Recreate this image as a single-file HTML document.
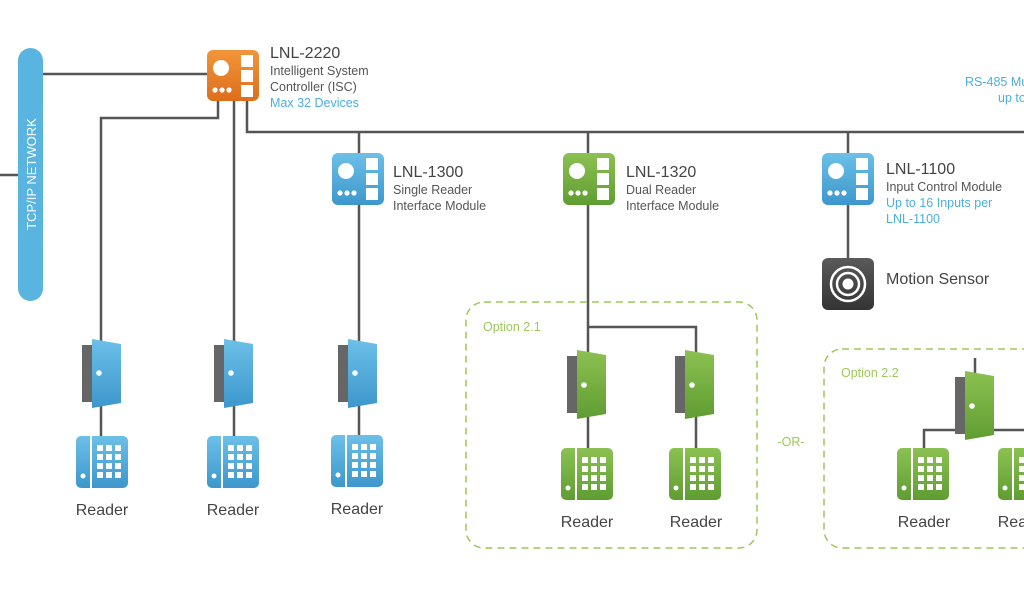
<!DOCTYPE html>
<html><head><meta charset="utf-8"><style>
html,body{margin:0;padding:0;background:#fff;width:1024px;height:600px;overflow:hidden}
svg{display:block}
text{font-family:"Liberation Sans",sans-serif}
</style></head><body>
<svg width="1024" height="600" viewBox="0 0 1024 600" xmlns="http://www.w3.org/2000/svg">
<defs>
<linearGradient id="gb" x1="0" y1="0" x2="0" y2="1"><stop offset="0" stop-color="#6cc0e8"/><stop offset="1" stop-color="#3d97cc"/></linearGradient>
<linearGradient id="gg" x1="0" y1="0" x2="0" y2="1"><stop offset="0" stop-color="#8cc152"/><stop offset="1" stop-color="#5f9d32"/></linearGradient>
<linearGradient id="go" x1="0" y1="0" x2="0" y2="1"><stop offset="0" stop-color="#f2953a"/><stop offset="1" stop-color="#dd6e1c"/></linearGradient>
<linearGradient id="gd" x1="0" y1="0" x2="0" y2="1"><stop offset="0" stop-color="#5a5a5a"/><stop offset="1" stop-color="#333"/></linearGradient>
<g id="mod">
<circle cx="14" cy="18" r="8" fill="#fff"/>
<rect x="34" y="5" width="12" height="12" fill="#fff"/><rect x="34" y="20" width="12" height="12" fill="#fff"/><rect x="34" y="35" width="12" height="12" fill="#fff"/>
<circle cx="8" cy="40" r="2.6" fill="#fff"/><circle cx="15" cy="40" r="2.6" fill="#fff"/><circle cx="22" cy="40" r="2.6" fill="#fff"/>
</g>
<g id="keys" fill="#fff">
<rect x="21" y="9" width="6" height="6"/><rect x="30" y="9" width="6" height="6"/><rect x="39" y="9" width="6" height="6"/>
<rect x="21" y="18" width="6" height="6"/><rect x="30" y="18" width="6" height="6"/><rect x="39" y="18" width="6" height="6"/>
<rect x="21" y="27" width="6" height="6"/><rect x="30" y="27" width="6" height="6"/><rect x="39" y="27" width="6" height="6"/>
<rect x="21" y="36" width="6" height="6"/><rect x="30" y="36" width="6" height="6"/><rect x="39" y="36" width="6" height="6"/>
<rect x="14" y="0" width="2" height="52"/>
<circle cx="7" cy="40" r="2.5"/>
</g>
</defs>

<g stroke="#555" stroke-width="2.5" fill="none">
<line x1="0" y1="175" x2="18" y2="175"/>
<line x1="43" y1="74" x2="207" y2="74"/>
<polyline points="218,101 218,118 101,118 101,470"/>
<line x1="234" y1="101" x2="234" y2="470"/>
<polyline points="247,101 247,132 1024,132"/>
<line x1="359" y1="132" x2="359" y2="470"/>
<line x1="588" y1="132" x2="588" y2="470"/>
<polyline points="588,327 696,327 696,470"/>
<line x1="848" y1="132" x2="848" y2="280"/>
<line x1="975" y1="358" x2="975" y2="400"/>
<polyline points="924,470 924,430 1024,430"/>
</g>

<rect x="18" y="48" width="25" height="253" rx="12.5" fill="#5ab4e0"/>
<text transform="translate(36,174) rotate(-90)" text-anchor="middle" font-size="13" fill="#fff">TCP/IP NETWORK</text>

<!-- controller -->
<rect x="207" y="50" width="52" height="51" rx="6" fill="url(#go)"/>
<use href="#mod" x="207" y="50"/>
<text x="270" y="58" font-size="16" fill="#444">LNL-2220</text>
<text x="270" y="75" font-size="12.5" fill="#555">Intelligent System</text>
<text x="270" y="91" font-size="12.5" fill="#555">Controller (ISC)</text>
<text x="270" y="107" font-size="12.5" fill="#4aaee0">Max 32 Devices</text>

<text x="965" y="86" font-size="12.5" fill="#4aaee0">RS-485 Multi-drop</text>
<text x="998" y="102" font-size="12.5" fill="#4aaee0">up to</text>

<!-- modules -->
<rect x="332" y="153" width="52" height="52" rx="6" fill="url(#gb)"/><use href="#mod" x="332" y="153"/>
<text x="393" y="177" font-size="16" fill="#444">LNL-1300</text>
<text x="393" y="194" font-size="12.5" fill="#555">Single Reader</text>
<text x="393" y="210" font-size="12.5" fill="#555">Interface Module</text>

<rect x="563" y="153" width="52" height="52" rx="6" fill="url(#gg)"/><use href="#mod" x="563" y="153"/>
<text x="626" y="177" font-size="16" fill="#444">LNL-1320</text>
<text x="626" y="194" font-size="12.5" fill="#555">Dual Reader</text>
<text x="626" y="210" font-size="12.5" fill="#555">Interface Module</text>

<rect x="822" y="153" width="52" height="52" rx="6" fill="url(#gb)"/><use href="#mod" x="822" y="153"/>
<text x="886" y="174" font-size="16" fill="#444">LNL-1100</text>
<text x="886" y="191" font-size="12.5" fill="#555">Input Control Module</text>
<text x="886" y="207" font-size="12.5" fill="#4aaee0">Up to 16 Inputs per</text>
<text x="886" y="223" font-size="12.5" fill="#4aaee0">LNL-1100</text>

<rect x="822" y="258" width="52" height="52" rx="6" fill="url(#gd)"/>
<g fill="none" stroke="#fff" stroke-width="2.5"><circle cx="848" cy="284" r="17"/><circle cx="848" cy="284" r="11"/></g>
<circle cx="848" cy="284" r="5.5" fill="#fff"/>
<text x="886" y="284" font-size="16" fill="#444">Motion Sensor</text>

<!-- blue doors/readers -->
<g id="bd1">
<rect x="82" y="345" width="11" height="57" fill="#666"/>
<polygon points="92,339 121,344 121,403 92,408" fill="url(#gb)"/>
<circle cx="99" cy="373" r="2.8" fill="#fff"/>
</g>
<use href="#bd1" x="132"/>
<use href="#bd1" x="256"/>
<rect x="76" y="436" width="52" height="52" rx="5" fill="url(#gb)"/><use href="#keys" x="76" y="436"/>
<rect x="207" y="436" width="52" height="52" rx="5" fill="url(#gb)"/><use href="#keys" x="207" y="436"/>
<rect x="331" y="435" width="52" height="52" rx="5" fill="url(#gb)"/><use href="#keys" x="331" y="435"/>
<text x="102" y="515" font-size="16" fill="#444" text-anchor="middle">Reader</text>
<text x="233" y="515" font-size="16" fill="#444" text-anchor="middle">Reader</text>
<text x="357" y="514" font-size="16" fill="#444" text-anchor="middle">Reader</text>

<!-- option 2.1 -->
<rect x="466" y="302" width="291" height="246" rx="18" fill="none" stroke="#9cc95a" stroke-width="1.5" stroke-dasharray="7,5"/>
<text x="483" y="331" font-size="12.5" fill="#9cc95a">Option 2.1</text>
<g id="gd1">
<rect x="567" y="356" width="11" height="57" fill="#666"/>
<polygon points="577,350 606,355 606,414 577,419" fill="url(#gg)"/>
<circle cx="584" cy="385" r="2.8" fill="#fff"/>
</g>
<use href="#gd1" x="108"/>
<rect x="561" y="448" width="52" height="52" rx="5" fill="url(#gg)"/><use href="#keys" x="561" y="448"/>
<rect x="669" y="448" width="52" height="52" rx="5" fill="url(#gg)"/><use href="#keys" x="669" y="448"/>
<text x="587" y="527" font-size="16" fill="#444" text-anchor="middle">Reader</text>
<text x="696" y="527" font-size="16" fill="#444" text-anchor="middle">Reader</text>

<text x="791" y="446" font-size="12.5" fill="#9cc95a" text-anchor="middle">-OR-</text>

<!-- option 2.2 -->
<rect x="824" y="349" width="230" height="199" rx="18" fill="none" stroke="#9cc95a" stroke-width="1.5" stroke-dasharray="7,5"/>
<text x="841" y="377" font-size="12.5" fill="#9cc95a">Option 2.2</text>
<use href="#gd1" x="388" y="21"/>
<rect x="897" y="448" width="52" height="52" rx="5" fill="url(#gg)"/><use href="#keys" x="897" y="448"/>
<rect x="998" y="448" width="52" height="52" rx="5" fill="url(#gg)"/><use href="#keys" x="998" y="448"/>
<text x="924" y="527" font-size="16" fill="#444" text-anchor="middle">Reader</text>
<text x="1024" y="527" font-size="16" fill="#444" text-anchor="middle">Reader</text>
</svg>
</body></html>
